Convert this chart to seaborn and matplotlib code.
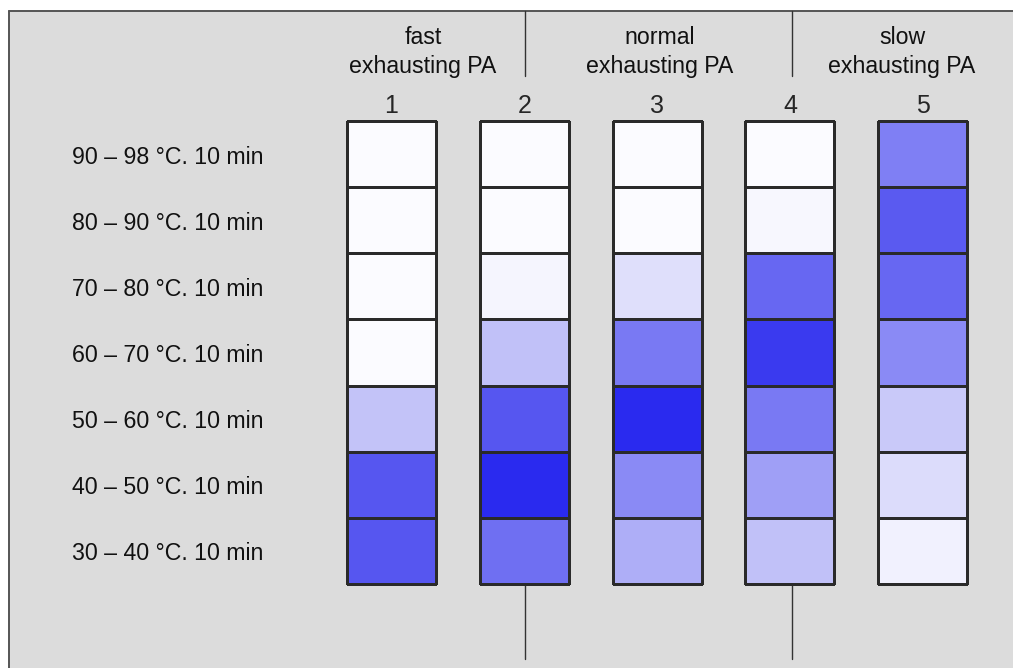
import numpy as np
import pandas as pd
import matplotlib
matplotlib.use('Agg')
import matplotlib.pyplot as plt
import seaborn as sns
from matplotlib.colors import LinearSegmentedColormap
from matplotlib.patches import Rectangle

sns.set_style('white')
plt.rcParams['font.family'] = ['Liberation Sans', 'DejaVu Sans']

rows = ['90 – 98 °C. 10 min', '80 – 90 °C. 10 min', '70 – 80 °C. 10 min',
        '60 – 70 °C. 10 min', '50 – 60 °C. 10 min', '40 – 50 °C. 10 min',
        '30 – 40 °C. 10 min']
columns = ['1', '2', '3', '4', '5']
groups = ['fast\nexhausting PA', 'normal\nexhausting PA', 'slow\nexhausting PA']

# colour intensity per cell, top row first
col1 = [0.0, 0.0, 0.0, 0.0, 0.27, 0.79, 0.79]
col2 = [0.0, 0.0, 0.03, 0.28, 0.79, 1.0, 0.67]
col3 = [0.0, 0.0, 0.14, 0.62, 1.0, 0.54, 0.37]
col4 = [0.0, 0.02, 0.71, 0.92, 0.62, 0.44, 0.28]
col5 = [0.59, 0.77, 0.71, 0.54, 0.24, 0.15, 0.05]

df = pd.DataFrame({'1': col1, '2': col2, '3': col3, '4': col4, '5': col5}, index=rows)

cmap = LinearSegmentedColormap.from_list(
    'pa', [(0, '#fbfbff'), (0.27, '#c3c3f8'), (0.54, '#8a8af5'),
           (0.79, '#5656f0'), (1.0, '#2a2aef')])

W, H = 1013, 668
fig = plt.figure(figsize=(W / 100, H / 100), dpi=100)
fig.patch.set_facecolor('white')

bg = fig.add_axes([0, 0, 1, 1])
bg.set_xlim(0, W)
bg.set_ylim(H, 0)
bg.axis('off')
bg.add_patch(Rectangle((8.5, 10.5), W, H, facecolor='#dcdcdc', edgecolor='none'))
bg.plot([8.5, W], [10.5, 10.5], color='#555555', lw=1.4)
bg.plot([8.5, 8.5], [10.5, H], color='#555555', lw=1.4)

top, bottom = 121, 584
cell_w, step, left0 = 89, 132.8, 347
row_h = (bottom - top) / len(rows)

for i, c in enumerate(columns):
    x0 = left0 + i * step
    ax = fig.add_axes([x0 / W, (H - bottom) / H, cell_w / W, (bottom - top) / H])
    sns.heatmap(df[[c]], ax=ax, cmap=cmap, vmin=0, vmax=1, cbar=False,
                linewidths=0.85, linecolor='#2a2a2a', yticklabels=False)
    ax.collections[0].set_clip_on(False)
    ax.xaxis.tick_top()
    ax.tick_params(top=False, bottom=False, labeltop=True, labelbottom=False,
                   length=0, pad=2, labelsize=18)
    ax.set_xlabel('')
    ax.set_ylabel('')

for k, r in enumerate(rows):
    bg.text(72, top + (k + 0.5) * row_h + 3, r, ha='left', va='center', fontsize=16.7, color='#111111')

for x, g in zip([423, 660, 902], groups):
    bg.text(x, 52, g, ha='center', va='center', fontsize=16.7, linespacing=1.3, color='#111111')

for x in [525, 792]:
    bg.plot([x, x], [10.5, 76], color='#333333', lw=1)
    bg.plot([x, x], [bottom, 659], color='#333333', lw=1)

fig.savefig('out.png', dpi=100)
